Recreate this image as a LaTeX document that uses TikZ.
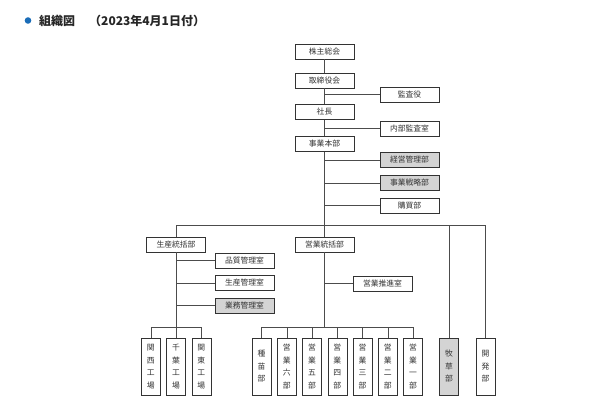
\documentclass[tikz,border=0pt]{standalone}
\usepackage{fontspec}
\newfontfamily\jp{Noto Sans CJK JP}
\usepackage{xcolor}
\usetikzlibrary{positioning,shadows}
\definecolor{dotblue}{HTML}{1B6DB8}

\tikzset{
    box/.style={draw=black!80, fill=white, line width=0.5pt, minimum width=59, minimum height=15,
        inner sep=0pt, text=black!80, font=\jp\fontsize{7.8}{9}\selectfont,
        drop shadow={shadow xshift=0.7pt, shadow yshift=-0.7pt, fill=black!60, opacity=0.8}},
    graybox/.style={box, fill=black!17},
    vbox/.style={box, minimum width=19, minimum height=57, align=center,
        font=\jp\fontsize{7.8}{12.5}\selectfont},
    grayvbox/.style={vbox, fill=black!17},
    link/.style={draw=black!70, line width=0.5pt},
}

\begin{document}
\begin{tikzpicture}[x=1pt, y=-1pt]
    \useasboundingbox (0,0) rectangle (600,408);

    % Title
    \fill[dotblue] (28,20.5) circle (3.3);
    \node[anchor=west, inner sep=0pt, text=black!85, font=\jp\bfseries\fontsize{12}{14}\selectfont] (title) at (39,21) {組織図};
    \node[anchor=west, inner sep=0pt, text=black!85, font=\jp\bfseries\fontsize{12}{14}\selectfont] (date) at (89,21) {（2023年4月1日付）};

    % Top of the chart
    \node[box] (kabu) at (324.5,51.5) {株主総会};
    \node[box] (tori) at (324.5,80.5) {取締役会};
    \node[box] (kansa) at (409.5,94.5) {監査役};
    \node[box] (shacho) at (324.5,112) {社長};
    \node[box] (naibu) at (409.5,128.5) {内部監査室};
    \node[box] (honbu) at (324.5,144) {事業本部};
    \node[graybox] (keiei) at (409.5,160) {経営管理部};
    \node[graybox] (senryaku) at (409.5,183) {事業戦略部};
    \node[box] (kobai) at (409.5,205.5) {購買部};
    \coordinate (bar) at (324.5,225.5);

    % Production
    \node[box] (seisan) at (176,244.5) {生産統括部};
    \node[box] (hinshitsu) at (244.5,260.5) {品質管理室};
    \node[box] (seikan) at (244.5,283) {生産管理室};
    \node[graybox] (gyomu) at (244.5,305.5) {業務管理室};

    % Sales
    \node[box] (eigyo) at (324.5,244.5) {営業統括部};
    \node[box] (suishin) at (382.5,283.5) {営業推進室};
    \coordinate (sbar) at (176,327);

    % Bottom row
    \node[vbox] (kansai) at (150.75,366.5) {関\\西\\工\\場};
    \node[vbox] (chiba) at (176,366.5) {千\\葉\\工\\場};
    \node[vbox] (kanto) at (201.25,366.5) {関\\東\\工\\場};
    \node[vbox] (shubyo) at (261.5,366.5) {種\\苗\\部};
    \node[vbox] (ei6) at (286.75,366.5) {営\\業\\六\\部};
    \node[vbox] (ei5) at (312,366.5) {営\\業\\五\\部};
    \node[vbox] (ei4) at (337.25,366.5) {営\\業\\四\\部};
    \node[vbox] (ei3) at (362.5,366.5) {営\\業\\三\\部};
    \node[vbox] (ei2) at (387.75,366.5) {営\\業\\二\\部};
    \node[vbox] (ei1) at (413,366.5) {営\\業\\一\\部};
    \node[grayvbox] (bokuso) at (449,366.5) {牧\\草\\部};
    \node[vbox] (kaihatsu) at (485.5,366.5) {開\\発\\部};

    % Main line
    \draw[link] (kabu) -- (tori) -- (shacho) -- (honbu) -- (eigyo) -- (eigyo |- sbar);
    \draw[link] (kansa) -- (kansa -| tori);
    \draw[link] (naibu) -- (naibu -| shacho);
    \draw[link] (keiei) -- (keiei -| honbu);
    \draw[link] (senryaku) -- (senryaku -| honbu);
    \draw[link] (kobai) -- (kobai -| honbu);

    % Divisions
    \draw[link] (seisan |- bar) -- (kaihatsu |- bar);
    \draw[link] (seisan |- bar) -- (seisan);
    \draw[link] (bokuso |- bar) -- (bokuso);
    \draw[link] (kaihatsu |- bar) -- (kaihatsu);
    \draw[link] (seisan) -- (seisan |- sbar);
    \draw[link] (hinshitsu) -- (hinshitsu -| seisan);
    \draw[link] (seikan) -- (seikan -| seisan);
    \draw[link] (gyomu) -- (gyomu -| seisan);
    \draw[link] (suishin) -- (suishin -| eigyo);

    % Branches to the bottom row
    \draw[link] (kansai |- sbar) -- (kanto |- sbar);
    \foreach \n in {kansai,chiba,kanto}
        \draw[link] (\n |- sbar) -- (\n);
    \draw[link] (shubyo |- sbar) -- (ei1 |- sbar);
    \foreach \n in {shubyo,ei6,ei5,ei4,ei3,ei2,ei1}
        \draw[link] (\n |- sbar) -- (\n);
\end{tikzpicture}
\end{document}
